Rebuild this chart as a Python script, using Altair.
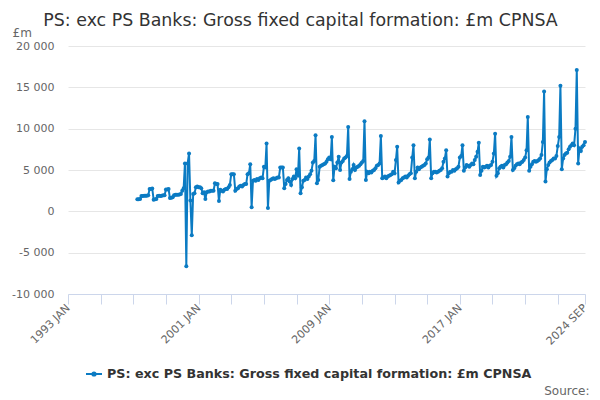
import altair as alt
import pandas as pd

# Monthly values (£m), calendar years Jan..Dec; 1997 starts in April, 2024 ends in September
y1997 = [1450, 1450, 1500, 1850, 1850, 1900, 1900, 1900, 1950]
y1998 = [2700, 2700, 2750, 1400, 1450, 1500, 1850, 1900, 1850, 1900, 1950, 1950]
y1999 = [2650, 2650, 2700, 1600, 1650, 1700, 1950, 2000, 2000, 2000, 2050, 2100]
y2000 = [2500, 2800, 5800, -6650, 5800, 7000, 1300, -2900, 2100, 2200, 2900, 3000]
y2001 = [2900, 2900, 2800, 2200, 2300, 1500, 2300, 2400, 2400, 2500, 2500, 2500]
y2002 = [3400, 3300, 3300, 1250, 2600, 2500, 2400, 2600, 2700, 2700, 2900, 3200]
y2003 = [4500, 4500, 4500, 2500, 2700, 2800, 3000, 3100, 3000, 3200, 3300, 3300]
y2004 = [4500, 4600, 5700, 500, 3700, 3800, 3700, 3900, 3800, 4000, 4100, 4000]
y2005 = [5400, 5300, 8200, 400, 3700, 3800, 3900, 4000, 3900, 4000, 4100, 4100]
y2006 = [5300, 5300, 5300, 2800, 3300, 3800, 4000, 3600, 3200, 3900, 4200, 4000]
y2007 = [5100, 4300, 7600, 2200, 2900, 3700, 3800, 4100, 3900, 4200, 4500, 4900]
y2008 = [5900, 6100, 9200, 3400, 3800, 5400, 5500, 5600, 5700, 5800, 6000, 6300]
y2009 = [6500, 6300, 9000, 3750, 5400, 5200, 5900, 6600, 5000, 5900, 6100, 6400]
y2010 = [6500, 6700, 10200, 3900, 4800, 5100, 5600, 5000, 5300, 5400, 5500, 5700]
y2011 = [5900, 6100, 10900, 3800, 4800, 4600, 4800, 4700, 4900, 5000, 5200, 5500]
y2012 = [5600, 5800, 9100, 4000, 4100, 4200, 4000, 4200, 4300, 4400, 4500, 4800]
y2013 = [4600, 6200, 7800, 3500, 3700, 3800, 4000, 4100, 4200, 4100, 4300, 4500]
y2014 = [4600, 6500, 8000, 4000, 4800, 5300, 5100, 5300, 5400, 5500, 5600, 5800]
y2015 = [6300, 6500, 8700, 4000, 4600, 4800, 4800, 4700, 4800, 4900, 5000, 5200]
y2016 = [6000, 6400, 7400, 4200, 4600, 4800, 4800, 5000, 4900, 5100, 5200, 5400]
y2017 = [6500, 6700, 8000, 4900, 5300, 5600, 5500, 5400, 5600, 5800, 5700, 6200]
y2018 = [6600, 7200, 8300, 4400, 4900, 5400, 5300, 5400, 5500, 5300, 5500, 5600]
y2019 = [6000, 7000, 9400, 4300, 4600, 5200, 5400, 5500, 5300, 5600, 5700, 5900]
y2020 = [6100, 6600, 9000, 5000, 5200, 5500, 5700, 5800, 5700, 5900, 6000, 6200]
y2021 = [6500, 7400, 11400, 4900, 5400, 5700, 6000, 6100, 6000, 6100, 6200, 6400]
y2022 = [6800, 8400, 14500, 3600, 5100, 5600, 5900, 6100, 6200, 6400, 6400, 6700]
y2023 = [7900, 9000, 15200, 5100, 6400, 6800, 7000, 7100, 7500, 7800, 8000, 8200]
y2024 = [8000, 10000, 17100, 5800, 7600, 7300, 7800, 8000, 8400]

series_name = "PS: exc PS Banks: Gross fixed capital formation: £m CPNSA"
title_text = "PS: exc PS Banks: Gross fixed capital formation: £m CPNSA"
y_ticks = [-10000, -5000, 0, 5000, 10000, 15000, 20000]
labelled_years = [1993, 2001, 2009, 2017]

values = (y1997 + y1998 + y1999 + y2000 + y2001 + y2002 + y2003 + y2004 + y2005 + y2006
          + y2007 + y2008 + y2009 + y2010 + y2011 + y2012 + y2013 + y2014 + y2015
          + y2016 + y2017 + y2018 + y2019 + y2020 + y2021 + y2022 + y2023 + y2024)
dates = pd.date_range("1997-04-01", periods=len(values), freq="MS").strftime("%Y-%m-%d")
df = pd.DataFrame({"date": dates, "value": values, "series": series_name})

tick_dates = [alt.DateTime(year=y, month=1, date=1, utc=True) for y in range(1993, 2024, 2)]
tick_dates.append(alt.DateTime(year=2024, month=9, date=1, utc=True))

years_js = "[" + ",".join(str(y) for y in labelled_years) + "]"
x_label_expr = (
    f"((indexof({years_js}, utcyear(datum.value)) >= 0 && utcmonth(datum.value) == 0) "
    "|| (utcyear(datum.value) == 2024 && utcmonth(datum.value) == 8)) "
    "? upper(utcFormat(datum.value, '%Y %b')) : ''"
)
y_label_expr = (
    "datum.value < 0 ? '-' + replace(format(-datum.value, ','), regexp(',', 'g'), ' ') "
    ": replace(format(datum.value, ','), regexp(',', 'g'), ' ')"
)

color = "#0b7bc3"
font = "DejaVu Sans"
legend_symbol = "M-1,0H1M0.2,0A0.2,0.2,0,1,1,-0.2,0A0.2,0.2,0,1,1,0.2,0"

chart = alt.Chart(df).mark_line(
    strokeWidth=2,
    point=alt.OverlayMarkDef(size=16, filled=True, opacity=1),
).encode(
    x=alt.X(
        "date:T",
        scale=alt.Scale(
            type="utc",
            domain=[alt.DateTime(year=1993, month=1, date=1, utc=True),
                    alt.DateTime(year=2024, month=9, date=1, utc=True)],
        ),
        axis=alt.Axis(
            values=tick_dates,
            labelExpr=x_label_expr,
            labelAngle=315,
            labelAlign="right",
            labelBaseline="middle",
            labelPadding=2,
            labelFont=font,
            labelFontSize=11,
            labelColor="#666666",
            labelOverlap=False,
            labelBound=False,
            labelFlush=False,
            grid=False,
            domainColor="#ccd6eb",
            tickColor="#ccd6eb",
            tickSize=10,
            title="Source:",
            titleX=521,
            titleY=96,
            titleAlign="right",
            titleBaseline="middle",
            titleFont=font,
            titleFontSize=12,
            titleFontWeight="normal",
            titleColor="#666666",
        ),
    ),
    y=alt.Y(
        "value:Q",
        scale=alt.Scale(domain=[-10000, 20000], nice=False, zero=False),
        axis=alt.Axis(
            values=y_ticks,
            labelExpr=y_label_expr,
            labelFont=font,
            labelFontSize=11,
            labelColor="#666666",
            labelPadding=14,
            domain=False,
            ticks=False,
            gridColor="#e6e6e6",
            title="£m",
            titleAngle=0,
            titleAlign="left",
            titleBaseline="middle",
            titleX=-56,
            titleY=-14,
            titleFont=font,
            titleFontSize=12,
            titleFontWeight="normal",
            titleColor="#666666",
        ),
    ),
    color=alt.Color(
        "series:N",
        scale=alt.Scale(range=[color]),
        legend=alt.Legend(
            orient="none",
            legendX=17,
            legendY=319,
            title=None,
            symbolType=legend_symbol,
            symbolStrokeWidth=2,
            symbolSize=256,
            labelFont=font,
            labelFontSize=12.7,
            labelFontWeight="bold",
            labelColor="#333333",
            labelLimit=600,
        ),
    ),
).properties(
    width=517,
    height=248,
    autosize=alt.AutoSizeParams(type="none"),
    padding={"left": 60, "top": 38, "right": 7, "bottom": 106},
    title=alt.TitleParams(
        title_text,
        font=font,
        fontSize=17.4,
        fontWeight="normal",
        color="#333333",
        anchor="middle",
        dx=-26,
        offset=-3,
    ),
).configure_view(stroke=None)

chart.save("out.html", embed_options={"renderer": "svg", "actions": False})
